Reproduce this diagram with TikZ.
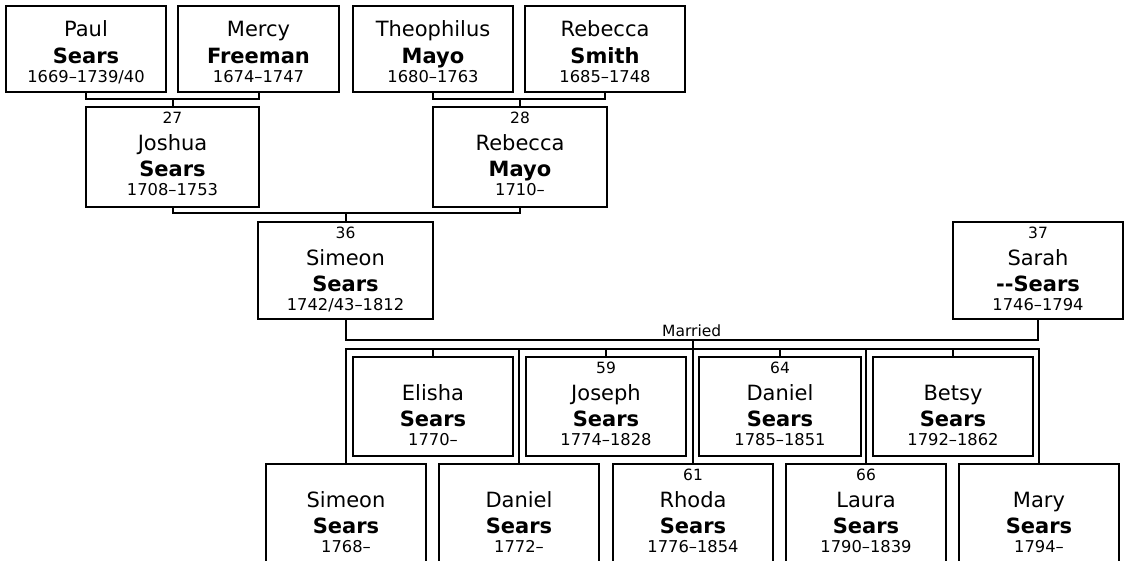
\documentclass[tikz,border=0pt]{standalone}
\usepackage{fontspec}
\setmainfont{DejaVu Sans}[Ligatures=TeXOff]
\usetikzlibrary{calc}
\tikzset{
 pbox/.style={draw, line width=2pt, inner sep=0pt, outer sep=0pt, fill=white},
 conn/.style={draw, line width=2pt},
 namef/.style={font=\fontsize{21}{24}\selectfont, inner sep=0pt, anchor=base},
 surf/.style={font=\fontsize{21}{24}\selectfont\bfseries, inner sep=0pt, anchor=base},
 datef/.style={font=\fontsize{16.3}{18}\selectfont, inner sep=0pt, anchor=base},
 numf/.style={font=\fontsize{15.5}{18}\selectfont, inner sep=0pt, anchor=base},
}
\newcommand\person[9]{%
 \node[pbox, minimum width=#4pt, minimum height=#5pt] (#1) at (#2,#3) {};
 \node[namef] (#1-first) at (#2,#6) {#7};
 \node[surf] (#1-last) at ([yshift=-26.5pt]#1-first.base) {#8};
 \node[datef] (#1-dates) at ([yshift=-45.5pt]#1-first.base) {#9};
}
\newcommand\pnum[2]{%
 \node[numf] (#1-num) at ([yshift=26.5pt]#1-first.base) {#2};
}
\begin{document}
\begin{tikzpicture}[x=1pt,y=-1pt]
\useasboundingbox (0,0) rectangle (1125,560);
\fill[white] (0,0) rectangle (1125,560);
\clip (0,0) rectangle (1125,560);

\person{paul}{86}{49}{160}{86}{36.7}{Paul}{Sears}{1669–1739/40}
\person{mercy}{258.5}{49}{161}{86}{36.7}{Mercy}{Freeman}{1674–1747}
\person{theo}{433}{49}{160}{86}{36.7}{Theophilus}{Mayo}{1680–1763}
\person{rsmith}{605}{49}{160}{86}{36.7}{Rebecca}{Smith}{1685–1748}
\person{joshua}{172.5}{157}{173}{100}{150}{Joshua}{Sears}{1708–1753}
\person{rmayo}{520}{157}{174}{100}{150}{Rebecca}{Mayo}{1710–}
\person{simeon}{345.5}{270.5}{175}{97}{265}{Simeon}{Sears}{1742/43–1812}
\person{sarah}{1038}{270.5}{170}{97}{265}{Sarah}{--Sears}{1746–1794}
\person{elisha}{433}{406.5}{160}{99}{400}{Elisha}{Sears}{1770–}
\person{joseph}{606}{406.5}{160}{99}{400}{Joseph}{Sears}{1774–1828}
\person{danielA}{780}{406.5}{162}{99}{400}{Daniel}{Sears}{1785–1851}
\person{betsy}{953}{406.5}{160}{99}{400}{Betsy}{Sears}{1792–1862}
\person{simeonB}{346}{513.5}{160}{99}{507}{Simeon}{Sears}{1768–}
\person{danielB}{519}{513.5}{160}{99}{507}{Daniel}{Sears}{1772–}
\person{rhoda}{693}{513.5}{160}{99}{507}{Rhoda}{Sears}{1776–1854}
\person{laura}{866}{513.5}{160}{99}{507}{Laura}{Sears}{1790–1839}
\person{mary}{1039}{513.5}{160}{99}{507}{Mary}{Sears}{1794–}

\pnum{joshua}{27}
\pnum{rmayo}{28}
\pnum{simeon}{36}
\pnum{sarah}{37}
\pnum{joseph}{59}
\pnum{danielA}{64}
\pnum{rhoda}{61}
\pnum{laura}{66}

\draw[conn] (paul.south) -- ++(0,7) coordinate (pmbar) -| (mercy.south);
\draw[conn] (joshua.north) -- (joshua.north |- pmbar);
\draw[conn] (theo.south) -- ++(0,7) coordinate (tsbar) -| (rsmith.south);
\draw[conn] (rmayo.north) -- (rmayo.north |- tsbar);
\draw[conn] (joshua.south) -- ++(0,6) coordinate (jrbar) -| (rmayo.south);
\draw[conn] (simeon.north) -- (simeon.north |- jrbar);
\draw[conn] (simeon.south) -- ++(0,21) coordinate (marbar) -| (sarah.south);
\node[numf] (married) at ($(marbar)!0.5!(marbar -| sarah.south)+(0,-4)$) {Married};
\coordinate (kidbar) at ($(marbar)+(0,9)$);
\draw[conn] (simeonB.north) -- (simeonB.north |- kidbar) -- (mary.north |- kidbar) -- (mary.north);
\draw[conn] (rhoda.north) -- (rhoda.north |- marbar);
\foreach \k in {danielB,laura,elisha,joseph,danielA,betsy}
  \draw[conn] (\k.north) -- (\k.north |- kidbar);
\end{tikzpicture}
\end{document}
